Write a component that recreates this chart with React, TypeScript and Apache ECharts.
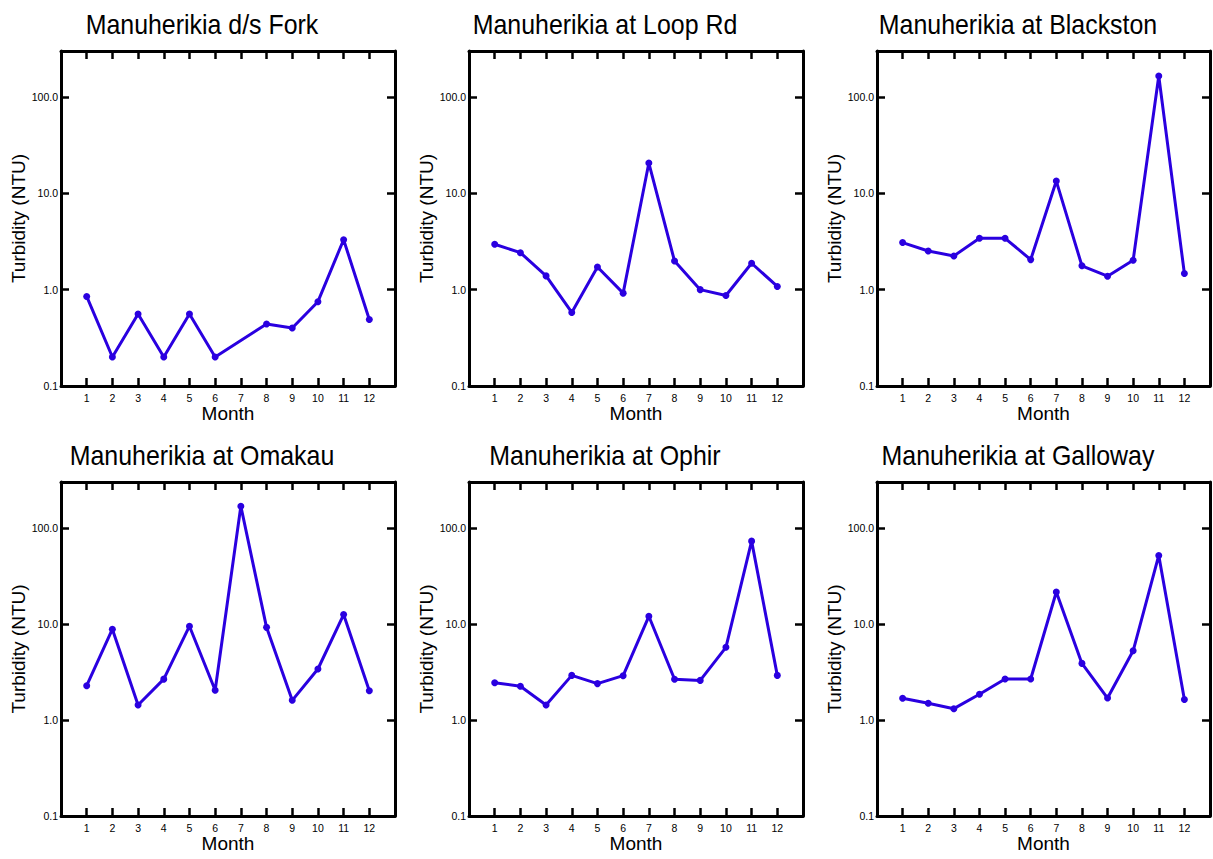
import React, { useEffect, useRef } from "react";
import * as echarts from "echarts";

const months = [1, 2, 3, 4, 5, 6, 7, 8, 9, 10, 11, 12];
const titles = [
  "Manuherikia d/s Fork",
  "Manuherikia at Loop Rd",
  "Manuherikia at Blackston",
  "Manuherikia at Omakau",
  "Manuherikia at Ophir",
  "Manuherikia at Galloway",
];
const dsFork = [0.85, 0.2, 0.56, 0.2, 0.56, 0.2, null, 0.44, 0.4, 0.75, 3.3, 0.49];
const loopRd = [2.96, 2.42, 1.39, 0.58, 1.72, 0.92, 20.6, 1.98, 1.0, 0.87, 1.88, 1.08];
const blackston = [3.08, 2.52, 2.24, 3.41, 3.41, 2.05, 13.4, 1.77, 1.38, 2.02, 165, 1.47];
const omakau = [2.27, 8.8, 1.43, 2.66, 9.46, 2.04, 168, 9.2, 1.6, 3.39, 12.5, 2.01];
const ophir = [2.44, 2.24, 1.43, 2.91, 2.39, 2.89, 12.0, 2.65, 2.58, 5.7, 72.7, 2.91];
const galloway = [1.68, 1.49, 1.31, 1.85, 2.67, 2.67, 21.5, 3.88, 1.69, 5.25, 51.6, 1.63];
const seriesValues = [dsFork, loopRd, blackston, omakau, ophir, galloway];
const yTickValues = [0.1, 1, 10, 100];

const FONT = "'Liberation Sans', Arial, sans-serif";
const BLUE = "#2a00e0";

export default function App() {
  const ref = useRef<HTMLDivElement>(null);
  useEffect(() => {
    if (!ref.current) return;
    const chart = echarts.init(ref.current, null, { renderer: "svg" });
    const lefts = [61, 469, 877];
    const widths = [334, 334, 333];
    const tops = [51, 482];
    const heights = [335, 334];
    const titleCenters = [202, 605, 1018];
    const titleMids = [24, 455];

    const grids: any[] = [];
    const xAxes: any[] = [];
    const yAxes: any[] = [];
    const series: any[] = [];
    const graphics: any[] = [];

    const yFmt = (v: number) => {
      for (const t of yTickValues) {
        if (Math.abs(v - t) / t < 1e-6) return t < 1 ? String(t) : t.toFixed(1);
      }
      return "";
    };

    seriesValues.forEach((vals, i) => {
      const col = i % 3;
      const row = Math.floor(i / 3);
      grids.push({
        left: lefts[col],
        top: tops[row],
        width: widths[col],
        height: heights[row],
        containLabel: false,
      });
      graphics.push({
        type: "text",
        x: titleCenters[col],
        y: titleMids[row],
        scaleX: 0.89,
        style: {
          text: titles[i],
          font: `28px ${FONT}`,
          fill: "#000",
          align: "center",
          verticalAlign: "middle",
        },
      });
      const axisLine = { show: true, onZero: false, lineStyle: { color: "#000", width: 3 } };
      const axisTick = { show: true, inside: true, length: 8, lineStyle: { color: "#000", width: 2.5 } };
      xAxes.push({
        gridIndex: i,
        type: "value",
        position: "bottom",
        min: 0,
        max: 13,
        interval: 1,
        axisLine,
        axisTick,
        splitLine: { show: false },
        axisLabel: {
          show: true,
          fontSize: 10.5,
          fontFamily: FONT,
          color: "#000",
          margin: 6,
          formatter: (v: number) => (months.includes(v) ? String(v) : ""),
        },
        name: "Month",
        nameLocation: "middle",
        nameGap: 18,
        nameTextStyle: { fontSize: 19, fontFamily: FONT, color: "#000" },
      });
      xAxes.push({
        gridIndex: i,
        type: "value",
        position: "top",
        min: 0,
        max: 13,
        interval: 1,
        axisLine,
        axisTick,
        splitLine: { show: false },
        axisLabel: { show: false },
      });
      yAxes.push({
        gridIndex: i,
        type: "log",
        logBase: 10,
        position: "left",
        min: 0.1,
        max: 300,
        axisLine,
        axisTick,
        splitLine: { show: false },
        minorTick: { show: false },
        axisLabel: {
          show: true,
          fontSize: 10.5,
          fontFamily: FONT,
          color: "#000",
          margin: 3,
          formatter: yFmt,
        },
        name: "Turbidity (NTU)",
        nameLocation: "middle",
        nameGap: 31,
        nameTextStyle: { fontSize: 19, fontFamily: FONT, color: "#000" },
      });
      yAxes.push({
        gridIndex: i,
        type: "log",
        logBase: 10,
        position: "right",
        min: 0.1,
        max: 300,
        axisLine,
        axisTick,
        splitLine: { show: false },
        axisLabel: { show: false },
      });
      const data = months
        .map((m, k) => [m, vals[k]])
        .filter((d) => d[1] !== null);
      series.push({
        type: "line",
        xAxisIndex: 2 * i,
        yAxisIndex: 2 * i,
        data,
        symbol: "circle",
        symbolSize: 7,
        lineStyle: { color: BLUE, width: 3 },
        itemStyle: { color: BLUE },
        connectNulls: true,
      });
    });

    chart.setOption({
      animation: false,
      backgroundColor: "#fff",
      graphic: graphics,
      grid: grids,
      xAxis: xAxes,
      yAxis: yAxes,
      series,
    });
    return () => chart.dispose();
  }, []);
  return (
    <div
      ref={ref}
      style={{ position: "absolute", left: 0, top: 0, width: 1213, height: 859 }}
    />
  );
}
